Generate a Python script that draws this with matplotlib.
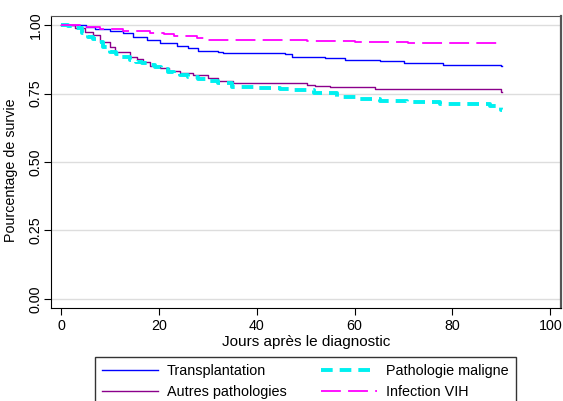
import numpy as np
import matplotlib.pyplot as plt

plt.rcParams['font.family'] = ['Liberation Sans', 'DejaVu Sans']
plt.rcParams['font.size'] = 10.3

# Kaplan-Meier step curves (day, survival)
transp_t = [0, 5, 7, 10, 12.7, 14.8, 17.5, 20.2, 23.7, 26, 28, 32, 33, 45.8, 47.2, 54, 58, 65.2, 70.1, 78.1, 90, 90.2]
transp_s = [1.0, 0.992, 0.984, 0.978, 0.970, 0.957, 0.945, 0.933, 0.925, 0.917, 0.906, 0.900, 0.897, 0.893, 0.884, 0.878, 0.872, 0.869, 0.860, 0.854, 0.850, 0.850]

autres_t = [0, 2.9, 4.9, 6.6, 8, 10, 11, 14.1, 15.5, 16.8, 18.2, 20.2, 22, 24.3, 27, 30, 32, 35.2, 50.2, 52, 55, 64.2, 90, 90.2]
autres_s = [1.0, 0.988, 0.976, 0.963, 0.939, 0.921, 0.903, 0.882, 0.875, 0.866, 0.850, 0.842, 0.833, 0.824, 0.818, 0.805, 0.796, 0.787, 0.781, 0.777, 0.773, 0.766, 0.755, 0.755]

malig_t = [0, 1.5, 2.9, 4.2, 5.5, 6.6, 7.6, 8.6, 10, 11.2, 12.5, 14.1, 15.3, 16.6, 18, 19.2, 20.5, 21.9, 23, 24.3, 26, 28, 30, 32, 35, 40, 44.8, 46.8, 51.6, 56.4, 60.5, 65.2, 70.7, 77.5, 83, 87.7, 90, 90.2]
malig_s = [1.0, 0.995, 0.988, 0.972, 0.957, 0.948, 0.939, 0.921, 0.903, 0.893, 0.884, 0.872, 0.866, 0.860, 0.854, 0.848, 0.840, 0.830, 0.824, 0.818, 0.810, 0.802, 0.795, 0.787, 0.775, 0.770, 0.765, 0.763, 0.751, 0.738, 0.730, 0.724, 0.719, 0.713, 0.710, 0.704, 0.69, 0.69]

vih_t = [0, 3.9, 8, 12.7, 18.2, 21, 23, 27.8, 30, 50.2, 60, 71, 90]
vih_s = [1.0, 0.994, 0.984, 0.978, 0.972, 0.966, 0.960, 0.954, 0.945, 0.942, 0.937, 0.933, 0.933]

fig = plt.figure(figsize=(5.63, 4.01), dpi=100)
ax = fig.add_axes([0.0906, 0.232, 0.906, 0.728])

l1, = ax.step(transp_t, transp_s, where='post', color='#0000ff', lw=1.0)
l2, = ax.step(autres_t, autres_s, where='post', color='#8b008b', lw=1.0)
l3, = ax.step(malig_t, malig_s, where='post', color='#00f0f0', lw=2.8, dashes=(3, 1.8))
l4, = ax.step(vih_t, vih_s, where='post', color='#ff00ff', lw=1.3, dashes=(11, 4))

ax.set_xlim(-2.05, 102.2)
ax.set_ylim(-0.033, 1.033)
ax.set_xticks([0, 20, 40, 60, 80, 100])
ax.set_yticks([0, 0.25, 0.5, 0.75, 1.0])
ax.set_yticklabels(['0.00', '0.25', '0.50', '0.75', '1.00'], rotation=90, va='center')
ax.yaxis.grid(True, color='#dddddd', lw=1)
ax.set_axisbelow(True)
ax.tick_params(direction='out', length=5, width=0.8, pad=3)
ax.tick_params(axis='y', pad=1)
for s in ['top', 'right']:
    ax.spines[s].set_color('#555555')
ax.spines['right'].set_linewidth(1.6)
ax.set_xlabel('Jours après le diagnostic', fontsize=11, labelpad=1.5)
ax.set_ylabel('Pourcentage de survie')
ax.yaxis.set_label_coords(-0.064, 0.473)

fig.legend([l1, l2, l3, l4],
           ['Transplantation', 'Autres pathologies', 'Pathologie maligne', 'Infection VIH'],
           ncol=2, loc='upper left', bbox_to_anchor=(95 / 563, 1 - 357 / 401),
           borderaxespad=0, frameon=True, fancybox=False, edgecolor='black',
           handlelength=3.85, handletextpad=0.63, columnspacing=2.4,
           borderpad=0.5, labelspacing=0.45, fontsize=10.4)

fig.savefig('out.png', dpi=100)
